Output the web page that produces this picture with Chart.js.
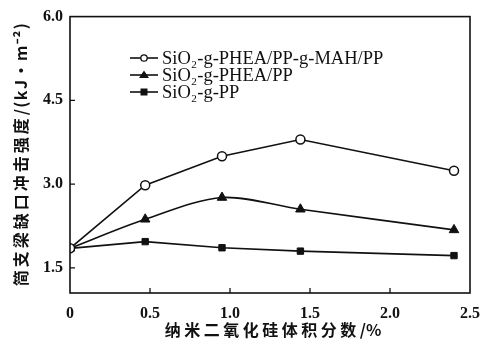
<!DOCTYPE html>
<html>
<head>
<meta charset="utf-8">
<script src="https://cdn.jsdelivr.net/npm/chart.js@4"></script>
<style>
  html, body { margin: 0; padding: 0; background: #fff; }
  canvas { display: block; }
</style>
</head>
<body>
<canvas id="c" width="491" height="347"></canvas>
<script>
// ── Données ────────────────────────────────────────────────
const X_VALUES = [0, 0.47, 0.95, 1.44, 2.4];
const PHEA_MAH = [1.85, 2.98, 3.5, 3.8, 3.24];
const PHEA = [1.85, 2.37, 2.76, 2.55, 2.18];
const PP_ONLY = [1.85, 1.97, 1.86, 1.8, 1.72];

const SERIES_LABELS = ['SiO₂-g-PHEA/PP-g-MAH/PP', 'SiO₂-g-PHEA/PP', 'SiO₂-g-PP'];
const X_TICKS = [0, 0.5, 1.0, 1.5, 2.0, 2.5];
const Y_TICKS = [1.5, 3.0, 4.5, 6.0];
// titres : partie chinoise + unité
const X_TITLE = ['纳米二氧化硅体积分数', '/%'];
const Y_TITLE = ['简支梁缺口冲击强度', '/(kJ·m⁻²)'];

const INK = '#111';
const SERIF = '"Liberation Serif", "DejaVu Serif", serif';
const CJK = '"Noto Sans CJK SC", sans-serif';

const toPts = ys => X_VALUES.map((x, i) => ({ x, y: ys[i] }));

// Titre en deux morceaux, chacun avec son espacement
function drawTitle(ctx, parts, cx, cy, sp1, sp2) {
  ctx.textAlign = 'left';
  ctx.textBaseline = 'middle';
  ctx.letterSpacing = sp1 + 'px';
  const w1 = ctx.measureText(parts[0]).width;
  ctx.letterSpacing = sp2 + 'px';
  const w2 = ctx.measureText(parts[1]).width;
  const x0 = cx - (w1 + w2) / 2;
  ctx.letterSpacing = sp1 + 'px';
  ctx.fillText(parts[0], x0, cy);
  ctx.letterSpacing = sp2 + 'px';
  ctx.fillText(parts[1], x0 + w1, cy);
  ctx.letterSpacing = '0px';
}

// Cadre, graduations internes, légende et titres d'axes
const decorPlugin = {
  id: 'decor',
  afterDraw(chart) {
    const { ctx, chartArea: a, scales } = chart;
    ctx.save();
    ctx.strokeStyle = INK;
    ctx.lineWidth = 1.6;
    ctx.strokeRect(a.left, a.top, a.right - a.left, a.bottom - a.top);

    // graduations vers l'intérieur
    ctx.lineWidth = 1.3;
    ctx.beginPath();
    X_TICKS.slice(1, -1).forEach(v => {
      const px = scales.x.getPixelForValue(v);
      ctx.moveTo(px, a.bottom);
      ctx.lineTo(px, a.bottom - 5);
    });
    Y_TICKS.slice(0, -1).forEach(v => {
      const py = scales.y.getPixelForValue(v);
      ctx.moveTo(a.left, py);
      ctx.lineTo(a.left + 5, py);
    });
    ctx.stroke();

    // légende
    const lx = 130, ly = 58, step = 17;
    chart.data.datasets.forEach((ds, i) => {
      const y = ly + i * step;
      ctx.strokeStyle = INK;
      ctx.lineWidth = 1.6;
      ctx.beginPath();
      ctx.moveTo(lx, y);
      ctx.lineTo(lx + 28, y);
      ctx.stroke();
      const mx = lx + 14;
      ctx.lineWidth = 1.3;
      ctx.fillStyle = ds.pointBackgroundColor;
      ctx.beginPath();
      if (ds.pointStyle === 'circle') {
        ctx.arc(mx, y, 3.2, 0, Math.PI * 2);
        ctx.fill();
        ctx.stroke();
      } else if (ds.pointStyle === 'triangle') {
        ctx.moveTo(mx, y - 4.5);
        ctx.lineTo(mx + 5, y + 3);
        ctx.lineTo(mx - 5, y + 3);
        ctx.closePath();
        ctx.fill();
      } else {
        ctx.rect(mx - 3.5, y - 3.5, 7, 7);
        ctx.fill();
      }
      ctx.fillStyle = INK;
      ctx.font = '18.5px ' + SERIF;
      ctx.textBaseline = 'middle';
      ctx.textAlign = 'left';
      ctx.fillText(ds.label, lx + 32, y + 1);
    });

    // titres des axes
    ctx.fillStyle = INK;
    ctx.font = 'bold 16px ' + CJK;
    drawTitle(ctx, X_TITLE, 273, 330, 3.5, 0);
    ctx.save();
    ctx.translate(21, 154);
    ctx.rotate(-Math.PI / 2);
    ctx.font = 'bold 16px ' + CJK;
    drawTitle(ctx, Y_TITLE, 0, 0, 3, 1.5);
    ctx.restore();
    ctx.restore();
  },
};

new Chart(document.getElementById('c'), {
  type: 'line',
  plugins: [decorPlugin],
  data: {
    datasets: [
      {
        label: SERIES_LABELS[0],
        data: toPts(PHEA_MAH),
        borderColor: INK,
        borderWidth: 1.6,
        pointStyle: 'circle',
        pointRadius: 4.5,
        pointBorderWidth: 1.5,
        pointBackgroundColor: '#fff',
        pointBorderColor: INK,
        tension: 0,
      },
      {
        label: SERIES_LABELS[1],
        data: toPts(PHEA),
        borderColor: INK,
        borderWidth: 1.6,
        pointStyle: 'triangle',
        pointRadius: 5.5,
        pointBorderWidth: 1,
        pointBackgroundColor: INK,
        pointBorderColor: INK,
        tension: 0.3,
      },
      {
        label: SERIES_LABELS[2],
        data: toPts(PP_ONLY),
        borderColor: INK,
        borderWidth: 1.6,
        pointStyle: 'rect',
        pointRadius: 4.5,
        pointBorderWidth: 1,
        pointBackgroundColor: INK,
        pointBorderColor: INK,
        tension: 0,
      },
    ],
  },
  options: {
    responsive: false,
    animation: false,
    layout: { padding: { left: 0, top: 15, right: 21, bottom: 0 } },
    plugins: {
      legend: { display: false },
      tooltip: { enabled: false },
    },
    scales: {
      x: {
        type: 'linear',
        min: 0,
        max: 2.5,
        afterFit: s => { s.height = 54; },
        afterBuildTicks: s => { s.ticks = X_TICKS.map(v => ({ value: v })); },
        grid: { display: false, drawTicks: false },
        border: { display: false },
        ticks: {
          padding: 11,
          color: INK,
          font: { family: SERIF, size: 16, weight: 'bold' },
          maxRotation: 0,
          autoSkip: false,
          callback: v => (v === 0 ? '0' : v.toFixed(1)),
        },
      },
      y: {
        type: 'linear',
        min: 1.05,
        max: 6.0,
        afterFit: s => { s.width = 70; },
        afterBuildTicks: s => { s.ticks = Y_TICKS.map(v => ({ value: v })); },
        grid: { display: false, drawTicks: false },
        border: { display: false },
        ticks: {
          padding: 7,
          color: INK,
          font: { family: SERIF, size: 16, weight: 'bold' },
          autoSkip: false,
          callback: v => v.toFixed(1),
        },
      },
    },
  },
});
</script>
</body>
</html>
